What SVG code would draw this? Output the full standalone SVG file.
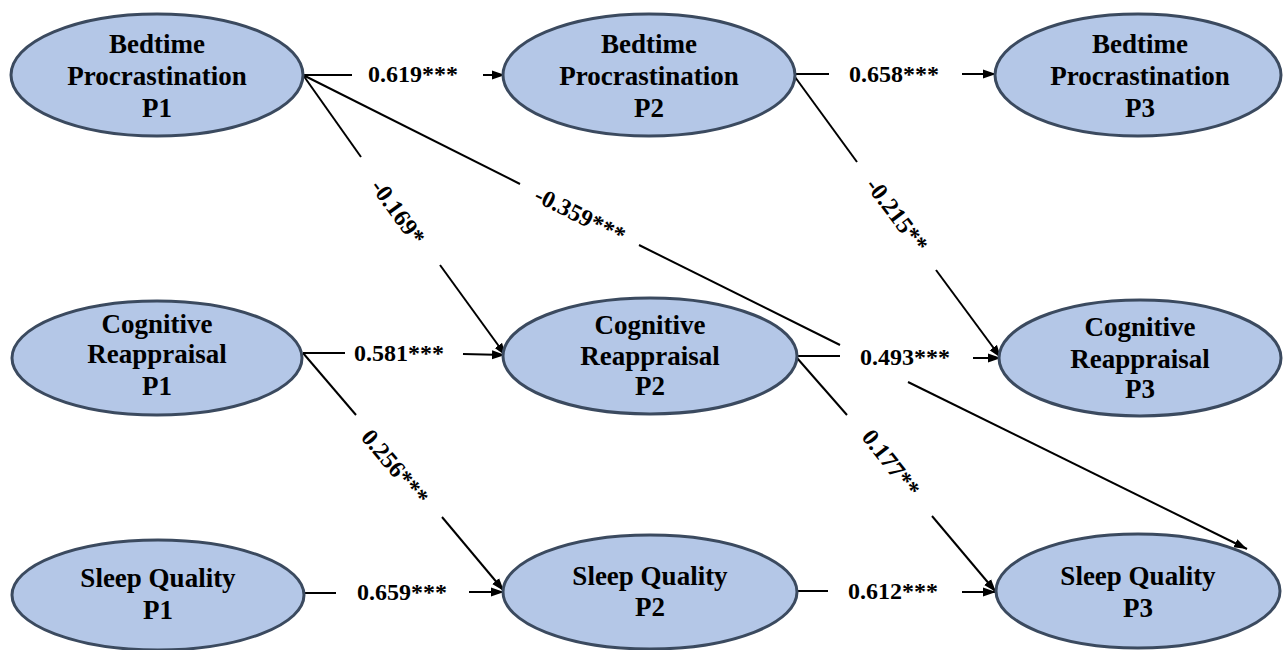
<svg xmlns="http://www.w3.org/2000/svg" width="1283" height="650" viewBox="0 0 1283 650">
<style>
.n ellipse{fill:#B4C7E7;stroke:#3B4A5F;stroke-width:3}
.n text{font-family:'Liberation Serif','Times New Roman',serif;font-weight:bold;font-size:27px;fill:#000;text-anchor:middle}
.e line{stroke:#000;stroke-width:2}
.l{font-family:'Liberation Serif','Times New Roman',serif;font-weight:bold;font-size:24px;fill:#000;text-anchor:middle}
</style>
<defs>
<marker id="ah" markerUnits="userSpaceOnUse" markerWidth="14" markerHeight="10" refX="13" refY="5" orient="auto">
<path d="M0,0.5 L13,5 L0,9.5 Z" fill="#000"/>
</marker>
</defs>
<rect width="1283" height="650" fill="#fff"/>
<g class="e" id="connectors">
<line x1="303" y1="75" x2="352" y2="75"/>
<line x1="483" y1="75" x2="505" y2="75" marker-end="url(#ah)"/>
<line x1="795" y1="74" x2="829" y2="74"/>
<line x1="962" y1="74" x2="996" y2="74" marker-end="url(#ah)"/>
<line x1="303" y1="353" x2="345" y2="353"/>
<line x1="463" y1="354" x2="505" y2="355" marker-end="url(#ah)"/>
<line x1="797" y1="356" x2="840" y2="356"/>
<line x1="973" y1="358" x2="1001" y2="358" marker-end="url(#ah)"/>
<line x1="303" y1="593" x2="336" y2="593"/>
<line x1="469" y1="592" x2="504" y2="592" marker-end="url(#ah)"/>
<line x1="797" y1="591" x2="828" y2="591"/>
<line x1="962" y1="592" x2="996" y2="592" marker-end="url(#ah)"/>
<line x1="303" y1="75" x2="361" y2="157"/>
<line x1="440" y1="265" x2="506" y2="356" marker-end="url(#ah)"/>
<line x1="303" y1="75" x2="520" y2="184"/>
<line x1="639" y1="245" x2="840" y2="345"/>
<line x1="908" y1="382" x2="1247" y2="549" marker-end="url(#ah)"/>
<line x1="795" y1="77" x2="857" y2="162"/>
<line x1="936" y1="270" x2="1001" y2="358" marker-end="url(#ah)"/>
<line x1="303" y1="353" x2="356" y2="415"/>
<line x1="442" y1="517" x2="504" y2="591" marker-end="url(#ah)"/>
<line x1="797" y1="358" x2="847" y2="415"/>
<line x1="932" y1="516" x2="996" y2="592" marker-end="url(#ah)"/>
</g>
<g id="labels">
<text class="l" x="413" y="82">0.619***</text>
<text class="l" x="894" y="82">0.658***</text>
<text class="l" x="399" y="361">0.581***</text>
<text class="l" x="905" y="365">0.493***</text>
<text class="l" x="402" y="600">0.659***</text>
<text class="l" x="893" y="599">0.612***</text>
<text class="l" transform="translate(398,212) rotate(54)" x="0" y="8">-0.169*</text>
<text class="l" transform="translate(580,215) rotate(26.7)" x="0" y="8">-0.359***</text>
<text class="l" transform="translate(897,215) rotate(53)" x="0" y="8">-0.215**</text>
<text class="l" transform="translate(395,467) rotate(50)" x="0" y="8">0.256***</text>
<text class="l" transform="translate(891,463) rotate(52)" x="0" y="8">0.177**</text>
</g>
<g class="n" id="bp1"><ellipse cx="157" cy="75" rx="146" ry="61"/><text x="157" y="53">Bedtime</text><text x="157" y="85">Procrastination</text><text x="157" y="117">P1</text></g>
<g class="n" id="bp2"><ellipse cx="649" cy="75" rx="146" ry="61"/><text x="649" y="53">Bedtime</text><text x="649" y="85">Procrastination</text><text x="649" y="117">P2</text></g>
<g class="n" id="bp3"><ellipse cx="1138" cy="75" rx="143" ry="61"/><text x="1140" y="53">Bedtime</text><text x="1140" y="85">Procrastination</text><text x="1140" y="117">P3</text></g>
<g class="n" id="cr1"><ellipse cx="157" cy="358" rx="145" ry="57"/><text x="157" y="333">Cognitive</text><text x="157" y="363">Reappraisal</text><text x="157" y="395">P1</text></g>
<g class="n" id="cr2"><ellipse cx="650" cy="356" rx="147" ry="58"/><text x="650" y="334">Cognitive</text><text x="650" y="365">Reappraisal</text><text x="650" y="395">P2</text></g>
<g class="n" id="cr3"><ellipse cx="1140" cy="358" rx="141" ry="58"/><text x="1140" y="336">Cognitive</text><text x="1140" y="368">Reappraisal</text><text x="1140" y="398">P3</text></g>
<g class="n" id="sq1"><ellipse cx="158" cy="595" rx="146" ry="55"/><text x="158" y="587">Sleep Quality</text><text x="158" y="619">P1</text></g>
<g class="n" id="sq2"><ellipse cx="650" cy="592" rx="147" ry="57"/><text x="650" y="585">Sleep Quality</text><text x="650" y="616">P2</text></g>
<g class="n" id="sq3"><ellipse cx="1138" cy="591" rx="142" ry="57"/><text x="1138" y="585">Sleep Quality</text><text x="1138" y="617">P3</text></g>
</svg>
